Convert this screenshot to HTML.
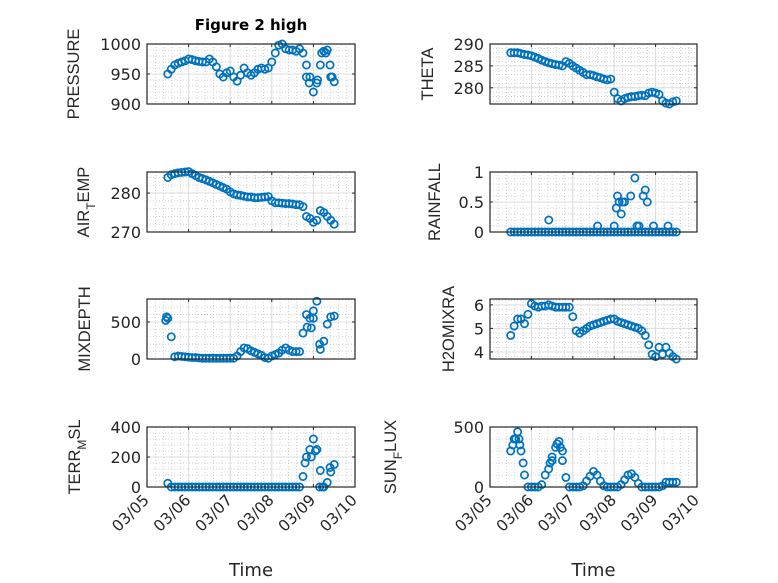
<!DOCTYPE html>
<html><head><meta charset="utf-8"><style>
body{margin:0;background:#fff}
svg{display:block;font-family:"Liberation Sans","DejaVu Sans",sans-serif}
</style></head><body>
<svg id="fig" width="778" height="583" viewBox="0 0 778 583" xmlns="http://www.w3.org/2000/svg">
<rect width="778" height="583" fill="#fff"/>
<text x="251" y="30" text-anchor="middle" font-size="15" font-weight="bold" fill="#000" style="font-family:'DejaVu Sans',sans-serif">Figure 2 high</text>
</svg>
<script>
// shared base sampling (days after 03/05 00:00)
const baseDays = [];
for (let i = 0; i < 49; i++) baseDays.push(0.5 + i / 12);
const xTickLabels = ["03/05","03/06","03/07","03/08","03/09","03/10"];

const pressureVals = [950,958,965,968,970,972,975,974,972,971,970,970,975,970,962,950,945,952,955,945,938,948,960,952,948,952,958,960,958,960,970,985,998,1000,992,990,990,988,992,985,965,945,920,935,965,988,990,945,937];
const pressureExtraDays = [3.83,3.9,4.1,4.2,4.3,4.4,4.45];
const pressureExtraVals = [945,935,940,985,985,965,945];

const thetaVals = [288,288,288,287.8,287.6,287.5,287.3,287,286.7,286.3,286,285.7,285.5,285.3,285.2,285,286,285.6,285,284.5,284,283.5,283,283,282.8,282.5,282.3,282,281.8,282,279,277.5,277,277.5,277.8,278,278,278.2,278.3,278.2,278.8,279,278.8,278.5,277,276.5,276.3,276.8,277];

const airVals = [284,284.7,285,285.2,285.3,285.4,285.5,285,284.5,284,283.7,283.4,283,282.6,282.2,281.8,281.4,281,280.3,279.8,279.5,279.4,279.2,279,279,278.8,278.8,278.9,279,279.1,278,277.5,277.5,277.4,277.3,277.3,277.2,277,277,276.5,274,273.5,272.5,273,275.5,275,274,273,272];

const rainBaseVals = baseDays.map(() => 0);
const rainDays = [1.42,2.6,3.0,3.05,3.08,3.12,3.17,3.2,3.25,3.4,3.5,3.55,3.6,3.7,3.75,3.8,3.95,4.3];
const rainVals = [0.2,0.1,0.1,0.4,0.6,0.5,0.3,0.5,0.5,0.6,0.9,0.1,0.1,0.6,0.7,0.5,0.1,0.1];

const mixVals = [550,300,30,40,35,30,25,20,20,15,10,10,10,10,10,10,10,10,10,10,40,100,150,140,110,90,70,50,20,10,40,60,80,120,150,120,100,100,100,350,600,550,650,780,130,240,470,570,580];
const mixExtraDays = [0.45,0.47,3.85,3.95,4.0,4.15];
const mixExtraVals = [520,570,430,420,550,200];

const h2oVals = [4.7,5.1,5.4,5.4,5.2,5.6,6.05,5.95,5.9,5.95,5.95,6.0,5.95,5.9,5.9,5.9,5.9,5.9,5.5,4.9,4.8,4.9,5.0,5.1,5.15,5.2,5.25,5.3,5.35,5.4,5.4,5.3,5.25,5.2,5.15,5.1,5.05,5.0,4.9,4.7,4.3,3.9,3.8,4.2,3.9,4.2,3.95,3.8,3.7];

const terrVals = [25,0,0,0,0,0,0,0,0,0,0,0,0,0,0,0,0,0,0,0,0,0,0,0,0,0,0,0,0,0,0,0,0,0,0,0,0,0,0,70,200,250,320,250,110,0,30,100,150];
const terrExtraDays = [3.8,3.95,4.05,4.15,4.22,4.4];
const terrExtraVals = [160,200,240,0,0,130];

const sunVals = [300,400,460,300,100,0,0,0,0,20,100,150,220,330,380,300,80,0,0,0,0,10,50,90,130,100,50,10,0,0,0,0,20,60,100,110,80,30,0,0,0,0,0,0,10,40,40,40,40];
const sunExtraDays = [0.55,0.62,0.7,0.72,0.8,1.45,1.5,1.62,1.7,1.75];
const sunExtraVals = [350,400,400,350,200,200,250,360,330,220];

const NS = "http://www.w3.org/2000/svg";
const svg = document.getElementById("fig");
function mk(tag, attrs, parent) {
  const e = document.createElementNS(NS, tag);
  for (const k in attrs) e.setAttribute(k, attrs[k]);
  (parent || svg).appendChild(e);
  return e;
}
const TICKFONT = "'DejaVu Sans',sans-serif";
const COLS = [{x0:147,x1:355},{x0:490,x1:697}];
const ROWS = [{y0:44,y1:104},{y0:172,y1:232},{y0:299,y1:359},{y0:427,y1:487}];

const panels = [
  {name:"pressure",col:0,row:0,ymin:900,ymax:1000,ticks:[900,950,1000],minor:10,label:["PRESSURE"],lx:79,
    sets:[[baseDays,pressureVals],[pressureExtraDays,pressureExtraVals]]},
  {name:"theta",col:1,row:0,ymin:276.3,ymax:290,ticks:[280,285,290],minor:1,label:["THETA"],lx:433,
    sets:[[baseDays,thetaVals]]},
  {name:"air-temp",col:0,row:1,ymin:270,ymax:285.4,ticks:[270,280],minor:2,label:["AIR","T","EMP"],lx:89,
    sets:[[baseDays,airVals]]},
  {name:"rainfall",col:1,row:1,ymin:0,ymax:1,ticks:[0,0.5,1],minor:0.1,label:["RAINFALL"],lx:440,
    sets:[[baseDays,rainBaseVals],[rainDays,rainVals]]},
  {name:"mixdepth",col:0,row:2,ymin:0,ymax:810,ticks:[0,500],minor:100,label:["MIXDEPTH"],lx:90,
    sets:[[baseDays,mixVals],[mixExtraDays,mixExtraVals]]},
  {name:"h2omixra",col:1,row:2,ymin:3.7,ymax:6.25,ticks:[4,5,6],minor:0.2,label:["H2OMIXRA"],lx:454,
    sets:[[baseDays,h2oVals]]},
  {name:"terr-msl",col:0,row:3,ymin:0,ymax:400,ticks:[0,200,400],minor:40,label:["TERR","M","SL"],lx:80,
    sets:[[baseDays,terrVals],[terrExtraDays,terrExtraVals]]},
  {name:"sun-flux",col:1,row:3,ymin:0,ymax:500,ticks:[0,500],minor:100,label:["SUN","F","LUX"],lx:396,
    sets:[[baseDays,sunVals],[sunExtraDays,sunExtraVals]]},
];

panels.forEach(p => {
  const c = COLS[p.col], r = ROWS[p.row];
  const g = mk("g", {});
  
  
  const xs = d => c.x0 + (d / 5) * (c.x1 - c.x0);
  const ys = v => r.y1 - (v - p.ymin) / (p.ymax - p.ymin) * (r.y1 - r.y0);
  mk("rect", {x:c.x0,y:r.y0,width:c.x1-c.x0,height:r.y1-r.y0,fill:"#fff"}, g);
  for (let d = 0; d <= 5.0001; d += 0.2) {
    const x = xs(d);
    mk("line",{x1:x,x2:x,y1:r.y0,y2:r.y1,stroke:"#c8c8c8","stroke-width":0.8,"stroke-dasharray":"1,2"},g);
  }
  const start = Math.ceil(p.ymin / p.minor - 1e-6) * p.minor;
  for (let v = start; v <= p.ymax + 1e-9; v += p.minor) {
    const y = ys(v);
    mk("line",{x1:c.x0,x2:c.x1,y1:y,y2:y,stroke:"#c8c8c8","stroke-width":0.8,"stroke-dasharray":"1,2"},g);
  }
  for (let d = 0; d <= 5; d++) {
    const x = xs(d);
    mk("line",{x1:x,x2:x,y1:r.y0,y2:r.y1,stroke:"#dcdcdc","stroke-width":1},g);
  }
  p.ticks.forEach(v => {
    const y = ys(v);
    mk("line",{x1:c.x0,x2:c.x1,y1:y,y2:y,stroke:"#dcdcdc","stroke-width":1},g);
    mk("line",{x1:c.x0,x2:c.x0+3,y1:y,y2:y,stroke:"#262626","stroke-width":1},g);
    mk("line",{x1:c.x1,x2:c.x1-3,y1:y,y2:y,stroke:"#262626","stroke-width":1},g);
    const t = mk("text",{x:c.x0-6,y:y+6,"text-anchor":"end","font-size":16,fill:"#262626",style:"font-family:"+TICKFONT},g);
    t.textContent = String(v);
    
    
  });
  for (let d = 0; d <= 5; d++) {
    const x = xs(d);
    mk("line",{x1:x,x2:x,y1:r.y1,y2:r.y1-3,stroke:"#262626","stroke-width":1},g);
    mk("line",{x1:x,x2:x,y1:r.y0,y2:r.y0+3,stroke:"#262626","stroke-width":1},g);
  }
  p.sets.forEach(([ds, vs]) => {
    ds.forEach((d, i) => {
      const m = mk("circle",{cx:xs(d),cy:ys(vs[i]),r:3.6,fill:"none",stroke:"#0072BD","stroke-width":1.7},g);
      
      
    });
  });
  mk("rect",{x:c.x0,y:r.y0,width:c.x1-c.x0,height:r.y1-r.y0,fill:"none",stroke:"#262626","stroke-width":1.2},g);
  const cy = (r.y0 + r.y1) / 2;
  const lab = mk("text",{x:0,y:0,"text-anchor":"middle","font-size":16.5,fill:"#262626",
    transform:`translate(${p.lx},${cy}) rotate(-90)`},g);
  
  
  if (p.label.length === 1) lab.textContent = p.label[0];
  else {
    const a = mk("tspan",{},lab); a.textContent = p.label[0];
    const b = mk("tspan",{dy:6,"font-size":12},lab); b.textContent = p.label[1];
    const cc = mk("tspan",{dy:-6},lab); cc.textContent = p.label[2];
  }
  if (p.row === 3) {
    xTickLabels.forEach((s, d) => {
      const x = xs(d);
      const t = mk("text",{x:0,y:0,"text-anchor":"end","font-size":15.5,fill:"#262626",style:"font-family:"+TICKFONT,
        transform:`translate(${x+3},${r.y1+14}) rotate(-45)`},g);
      t.textContent = s;
      
      
    });
    const xl = mk("text",{x:(c.x0+c.x1)/2,y:576,"text-anchor":"middle","font-size":18,fill:"#262626",style:"font-family:"+TICKFONT},g);
    xl.textContent = "Time";
    
    
  }
});
</script>
</body></html>
